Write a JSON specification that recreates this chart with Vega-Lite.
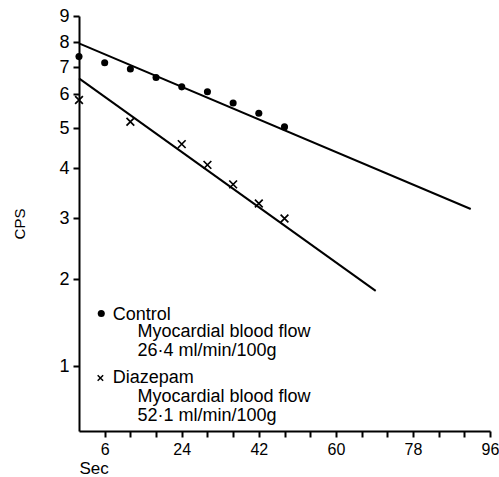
{
  "$schema": "https://vega.github.io/schema/vega-lite/v6.json",
  "autosize": "none",
  "width": 411,
  "height": 415,
  "padding": {"left": 79, "top": 16, "right": 9, "bottom": 46},
  "background": "white",
  "config": {
    "view": {"stroke": null},
    "font": "Liberation Sans",
    "axis": {
      "domainColor": "black", "domainWidth": 2, "tickColor": "black", "tickWidth": 2, "tickSize": 6,
      "labelColor": "black", "labelFont": "Liberation Sans", "labelFontSize": 18, "labelPadding": 4,
      "titleColor": "black", "titleFont": "Liberation Sans", "titleFontWeight": "normal", "grid": false
    }
  },
  "datasets": {
    "points": [
      {"series": "Control", "sec": 0, "cps": 7.4},
      {"series": "Control", "sec": 6, "cps": 7.16},
      {"series": "Control", "sec": 12, "cps": 6.92},
      {"series": "Control", "sec": 18, "cps": 6.59},
      {"series": "Control", "sec": 24, "cps": 6.25},
      {"series": "Control", "sec": 30, "cps": 6.08},
      {"series": "Control", "sec": 36, "cps": 5.72},
      {"series": "Control", "sec": 42, "cps": 5.41},
      {"series": "Control", "sec": 48, "cps": 5.03},
      {"series": "Diazepam", "sec": 0, "cps": 5.81},
      {"series": "Diazepam", "sec": 12, "cps": 5.17},
      {"series": "Diazepam", "sec": 24, "cps": 4.57},
      {"series": "Diazepam", "sec": 30, "cps": 4.07},
      {"series": "Diazepam", "sec": 36, "cps": 3.64},
      {"series": "Diazepam", "sec": 42, "cps": 3.26},
      {"series": "Diazepam", "sec": 48, "cps": 2.99}
    ],
    "fits": [
      {"series": "Control", "sec": 0, "cps": 7.94},
      {"series": "Control", "sec": 91.5, "cps": 3.16},
      {"series": "Diazepam", "sec": 0, "cps": 6.56},
      {"series": "Diazepam", "sec": 69.3, "cps": 1.82}
    ],
    "keys": [
      {"series": "Control", "sec": 5.2, "cps": 1.52},
      {"series": "Diazepam", "sec": 5.0, "cps": 0.91}
    ],
    "notes": [
      {"text": "Control", "sec": 7.87, "cps": 1.443},
      {"text": "Myocardial blood flow\n26·4 ml/min/100g", "sec": 13.65, "cps": 1.26},
      {"text": "Diazepam", "sec": 7.87, "cps": 0.875},
      {"text": "Myocardial blood flow\n52·1 ml/min/100g", "sec": 13.65, "cps": 0.755}
    ]
  },
  "encoding": {
    "x": {
      "field": "sec", "type": "quantitative",
      "scale": {"domain": [0, 96], "nice": false, "zero": false},
      "axis": {
        "values": [6, 12, 18, 24, 30, 36, 42, 48, 54, 60, 66, 72, 78, 84, 90, 96],
        "labelExpr": "(datum.value - 6) % 18 == 0 ? datum.label : ''",
        "labelFontSize": 16,
        "labelOverlap": false, "labelBound": false, "labelFlush": false,
        "title": "Sec", "titleFontSize": 17, "titleAnchor": "start", "titleAlign": "left", "titlePadding": 3
      }
    },
    "y": {
      "field": "cps", "type": "quantitative",
      "scale": {
        "type": "log", "nice": false, "zero": false,
        "domain": [0.6, 1, 2, 3, 4, 5, 6, 7, 8, 9],
        "range": [415, 350, 263, 202, 152, 112, 78, 51, 26, 0]
      },
      "axis": {
        "values": [1, 2, 3, 4, 5, 6, 7, 8, 9], "format": "d",
        "labelOverlap": false, "labelBound": false, "labelFlush": false,
        "title": "CPS", "titleFontSize": 15, "titlePadding": 31
      }
    }
  },
  "layer": [
    {
      "data": {"name": "fits"},
      "mark": {"type": "line", "color": "black", "strokeWidth": 2},
      "encoding": {"detail": {"field": "series"}}
    },
    {
      "data": {"name": "points"},
      "transform": [{"filter": "datum.series == 'Control'"}],
      "mark": {"type": "point", "shape": "circle", "filled": true, "color": "black", "opacity": 1, "size": 50}
    },
    {
      "data": {"name": "points"},
      "transform": [{"filter": "datum.series == 'Diazepam'"}],
      "mark": {"type": "point", "shape": "M-1,-1L1,1M1,-1L-1,1", "filled": false, "color": "black", "opacity": 1, "size": 60, "strokeWidth": 1.7}
    },
    {
      "data": {"name": "keys"},
      "transform": [{"filter": "datum.series == 'Control'"}],
      "mark": {"type": "point", "shape": "circle", "filled": true, "color": "black", "opacity": 1, "size": 50}
    },
    {
      "data": {"name": "keys"},
      "transform": [{"filter": "datum.series == 'Diazepam'"}],
      "mark": {"type": "point", "shape": "M-1,-1L1,1M1,-1L-1,1", "filled": false, "color": "black", "opacity": 1, "size": 30, "strokeWidth": 1.5}
    },
    {
      "data": {"name": "notes"},
      "mark": {"type": "text", "align": "left", "baseline": "alphabetic", "lineBreak": "\n", "lineHeight": 19.5, "font": "Liberation Sans", "fontSize": 18, "color": "black"},
      "encoding": {"text": {"field": "text"}}
    }
  ]
}
